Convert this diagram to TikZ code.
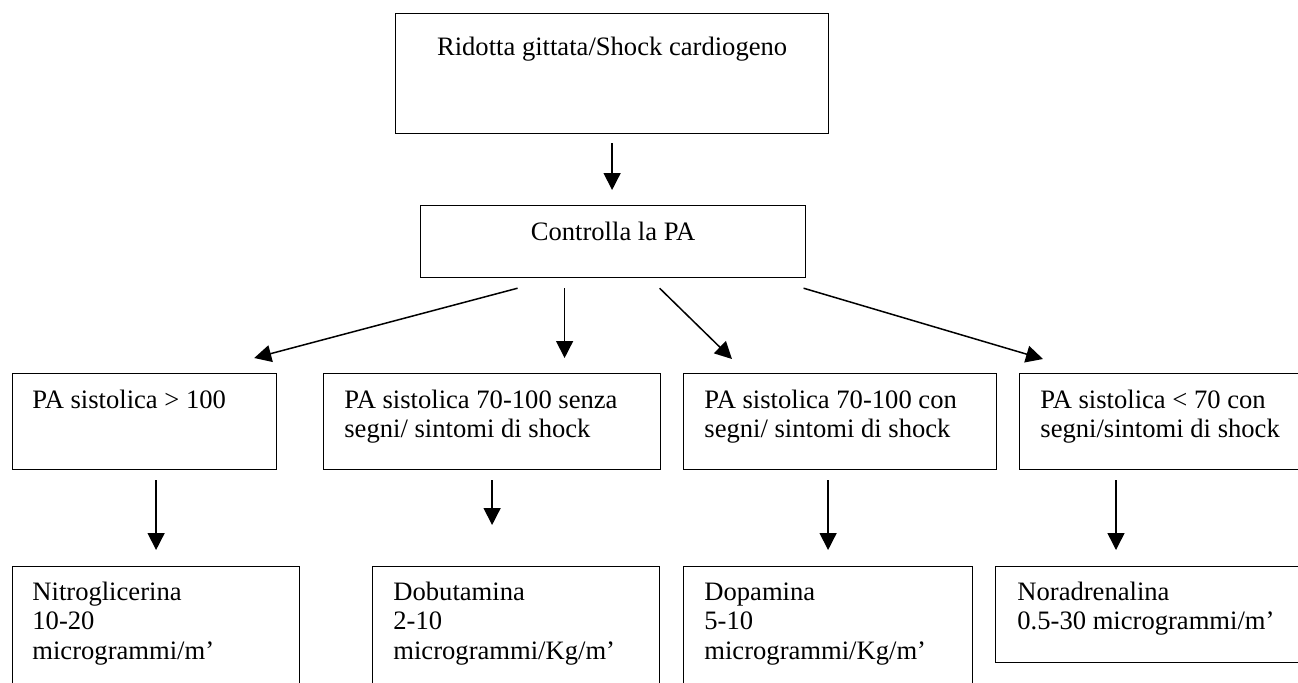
\documentclass[tikz,border=0pt]{standalone}
\usepackage{fontspec}
\setmainfont{Liberation Serif}
\usetikzlibrary{positioning, calc, arrows.meta}

% text set from the first line down
\newcommand{\cella}[1]{\begin{tabular}[t]{@{}l@{}}#1\end{tabular}}

\tikzset{
  box/.style={draw, line width=0.6pt, anchor=north west, inner sep=0pt},
  txt/.style={inner sep=0pt, font=\fontsize{13.3}{14.75}\selectfont},
  arr/.style={-{Triangle[length=8.5pt,width=8.5pt]}, line width=0.75pt},
}

\begin{document}
\begin{tikzpicture}[x=0.5pt, y=-0.5pt]
        \useasboundingbox (0,0) rectangle (1298,682);
        \clip (0,0) rectangle (1298,682);

        % top of the chart
        \node[box, minimum width=216.5pt, minimum height=60pt] (top)  at (395,13)  {};
        \node[box, minimum width=192.5pt, minimum height=36pt] (ctrl) at (420,205) {};

        \node[txt, anchor=base] (ttop)  at ($ (top.north)+(0,42) $)  {Ridotta gittata/Shock cardiogeno};
        \node[txt, anchor=base] (tctrl) at ($ (ctrl.north)+(0,35) $) {Controlla la PA};

        % the four PA cases
        \node[box, minimum width=132pt,   minimum height=48pt] (pa1) at (12,373)   {};
        \node[box, minimum width=168.5pt, minimum height=48pt] (pa2) at (323,373)  {};
        \node[box, minimum width=156.5pt, minimum height=48pt] (pa3) at (683,373)  {};
        \node[box, minimum width=145.5pt, minimum height=48pt] (pa4) at (1019,373) {};

        \node[txt, anchor=base west] (tpa1) at ($ (pa1.north west)+(20,35) $) {\cella{PA sistolica > 100}};
        \node[txt, anchor=base west] (tpa2) at ($ (pa2.north west)+(21,35) $) {\cella{PA sistolica 70-100 senza\\segni/ sintomi di shock}};
        \node[txt, anchor=base west] (tpa3) at ($ (pa3.north west)+(21,35) $) {\cella{PA sistolica 70-100 con\\segni/ sintomi di shock}};
        \node[txt, anchor=base west] (tpa4) at ($ (pa4.north west)+(21,35) $) {\cella{PA sistolica < 70 con\\segni/sintomi di shock}};

        % the drugs
        \node[box, minimum width=143.5pt, minimum height=67pt] (f1) at (12,566)  {};
        \node[box, minimum width=143.5pt, minimum height=67pt] (f2) at (372,566) {};
        \node[box, minimum width=144.5pt, minimum height=67pt] (f3) at (683,566) {};
        \node[box, minimum width=157.5pt, minimum height=48pt] (f4) at (995,566) {};

        \node[txt, anchor=base west] (tf1) at ($ (f1.north west)+(20,34) $) {\cella{Nitroglicerina\\10-20\\microgrammi/m’}};
        \node[txt, anchor=base west] (tf2) at ($ (f2.north west)+(21,34) $) {\cella{Dobutamina\\2-10\\microgrammi/Kg/m’}};
        \node[txt, anchor=base west] (tf3) at ($ (f3.north west)+(21,34) $) {\cella{Dopamina\\5-10\\microgrammi/Kg/m’}};
        \node[txt, anchor=base west] (tf4) at ($ (f4.north west)+(22,34) $) {\cella{Noradrenalina\\0.5-30 microgrammi/m’}};

        % arrow ends
        \coordinate (s1) at ($ (ctrl.south)+(-95.5,10) $);
        \coordinate (s2) at ($ (ctrl.south)+(-48.5,10) $);
        \coordinate (s3) at ($ (ctrl.south)+(46.5,10) $);
        \coordinate (s4) at ($ (ctrl.south)+(190.5,10) $);
        \coordinate (e1) at ($ (pa1.north east)+(-23,-15) $);
        \coordinate (e2) at ($ (pa2.north)+(72.5,-15) $);
        \coordinate (e3) at ($ (pa3.north west)+(49,-14) $);
        \coordinate (e4) at ($ (pa4.north west)+(24,-14) $);

        % the arrows
        \draw[arr, shorten <=4.5pt, shorten >=7.5pt] (top.south) -- (top.south |- ctrl.north);
        \draw[arr] (s1) -- (e1);
        \draw[arr] (s2) -- (e2);
        \draw[arr] (s3) -- (e3);
        \draw[arr] (s4) -- (e4);

        \draw[arr, shorten <=5pt, shorten >=8pt]    (pa1.south -| f1.north) -- (f1.north);
        \draw[arr, shorten <=5pt, shorten >=20.5pt] (pa2.south) -- (pa2.south |- f2.north);
        \draw[arr, shorten <=5pt, shorten >=8pt]    (f3.north |- pa3.south) -- (f3.north);
        \draw[arr, shorten <=5pt, shorten >=8pt]    ($ (pa4.south west)+(97,0) $) -- ($ (f4.north west)+(121,0) $);
    \end{tikzpicture}
\end{document}
